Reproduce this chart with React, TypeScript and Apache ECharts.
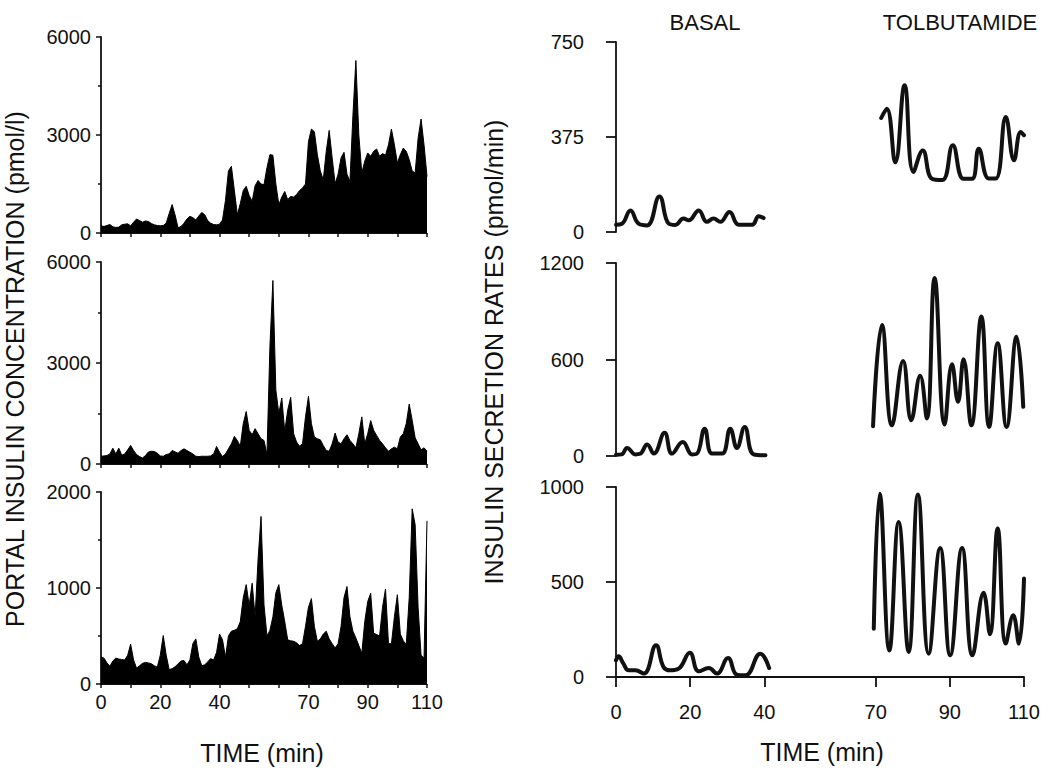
import React, { useEffect, useRef } from 'react';
import * as echarts from 'echarts';

// ---------- data ----------
const TIME_LABELS = [0, 20, 40, 70, 90, 110];

// Portal insulin concentration (pmol/l), one value per minute, 0..110 min
const PORTAL_A = [
  220, 200, 230, 260, 190, 170, 180, 250, 270, 280,
  220, 330, 430, 380, 330, 370, 350, 290, 250, 230,
  220, 230, 300, 600, 870, 550, 160, 200, 300, 430,
  510, 470, 400, 520, 630, 560, 380, 300, 260, 250,
  270, 400, 1000, 1900, 2040, 1300, 560, 900, 1300, 1430,
  1150, 970, 1450, 1610, 1500, 1480, 2000, 2400, 2380, 1500,
  870, 1100, 1270, 1020, 1120, 1100, 1180, 1300, 1380, 1500,
  2800, 3180, 3100, 2400, 1900, 1630, 2500, 3140, 2300, 1510,
  1800, 2300, 2470, 1800, 1580, 3600, 5280, 3000, 1840, 2200,
  2450, 2350, 2500, 2570, 2350, 2430, 2380, 2700, 3180, 2700,
  2140, 2400, 2600, 2500, 2250, 1900, 1840, 2900, 3490, 2700,
  1730,
];
const PORTAL_B = [
  230, 240, 250, 300, 470, 300, 470, 260, 300, 420,
  550, 400, 280, 220, 180, 250, 360, 380, 370, 320,
  240, 230, 280, 300, 400, 360, 320, 400, 450, 400,
  350, 300, 230, 220, 230, 230, 230, 240, 300, 520,
  350, 220, 300, 450, 600, 820, 700, 530, 1200, 1560,
  1000, 870, 1050, 900, 750, 700, 280, 3500, 5450, 2200,
  1500, 1960, 970, 1600, 1980, 900, 650, 530, 600, 1400,
  2010, 1200, 800, 750, 720, 550, 400, 380, 600, 920,
  650, 600, 750, 870, 700, 600, 480, 900, 1400, 600,
  900, 1290, 1000, 850, 700, 600, 480, 380, 450, 500,
  450, 800, 900, 1200, 1780, 1300, 780, 600, 420, 480,
  380,
];
const PORTAL_C = [
  280, 270, 220, 185, 240, 270, 260, 255, 250, 300,
  415, 250, 165, 190, 215, 225, 220, 210, 190, 175,
  300, 505, 300, 150, 160, 180, 210, 240, 245, 200,
  250, 420, 470, 280, 190, 200, 230, 265, 250, 330,
  520, 460, 280, 500, 550, 560, 575, 650, 900, 1035,
  820, 1050, 700, 1300, 1745, 825, 500, 560, 700, 950,
  1035, 820, 650, 460, 450, 445, 430, 400, 420, 600,
  800, 890, 600, 445, 470, 520, 550, 470, 420, 375,
  420, 600, 900, 1015, 700, 550, 480, 400, 320, 650,
  860, 945, 530, 515, 500, 800, 990, 420, 420, 700,
  930, 520, 450, 410, 900, 1825, 1660, 800, 300, 270,
  1700,
];

// Insulin secretion rates (pmol/min): times (min) and values
const SR1_BASAL_T = [0, 1.6, 3.9, 6.1, 8.4, 11.7, 14.2, 16, 18.2, 19.6, 22.3, 24.5, 26.3, 28.1, 30.6, 33.1, 36.7, 38.5, 39.8];
const SR1_BASAL_V = [29, 33, 85, 33, 26, 140, 33, 28, 53, 46, 85, 40, 53, 40, 79, 29, 29, 62, 55];
const SR1_TOLB_T = [71.5, 73, 75.3, 77.8, 80.2, 82.7, 85.2, 88, 90.8, 93.7, 96, 97.8, 100.5, 102.4, 105.1, 107.3, 109.1, 110];
const SR1_TOLB_V = [450, 487, 275, 579, 237, 322, 210, 205, 342, 210, 210, 329, 211, 211, 454, 283, 395, 382];

const SR2_BASAL_T = [0, 1.5, 3, 5.2, 6.5, 8.4, 10.2, 13.1, 15.1, 18, 20.5, 21.8, 23.9, 25.9, 28.6, 30.8, 32.6, 34.7, 37.1, 40.3];
const SR2_BASAL_V = [8, 10, 50, 10, 14, 71, 15, 144, 15, 87, 10, 14, 170, 15, 15, 170, 50, 181, 10, 4];
const SR2_TOLB_T = [69.3, 71.7, 74.4, 77.4, 79.6, 82, 83.8, 85.9, 88.6, 90.6, 92.2, 93.7, 95.8, 98.5, 100.6, 102.9, 105.3, 108, 109.8];
const SR2_TOLB_V = [185, 815, 191, 591, 223, 499, 233, 1107, 196, 570, 337, 601, 191, 867, 181, 701, 181, 742, 306];

const SR3_BASAL_T = [0, 0.7, 2, 3.4, 5.2, 7.5, 10.8, 12.8, 14.6, 16.9, 19.9, 22.3, 25, 27.2, 30.2, 32.6, 34.9, 38.9, 41.3];
const SR3_BASAL_V = [88, 109, 70, 35, 35, 18, 167, 53, 35, 44, 128, 30, 47, 18, 100, 12, 9, 123, 47];
const SR3_TOLB_T = [69.5, 71.1, 73.7, 76.2, 78.9, 81.4, 84.3, 87.4, 90.1, 93.3, 96.1, 99.1, 100.8, 102.9, 105.1, 107.1, 108.6, 110];
const SR3_TOLB_V = [254, 965, 140, 816, 132, 961, 123, 679, 114, 679, 114, 444, 225, 781, 176, 325, 176, 518];

const LEFT_Y_MAX = [6000, 6000, 2000];
const LEFT_Y_STEP = [3000, 3000, 1000];
const RIGHT_Y_MAX = [750, 1200, 1000];
const RIGHT_Y_STEP = [375, 600, 500];

// ---------- styling ----------
const FONT = '"Liberation Sans", Arial, Helvetica, sans-serif';
const INK = '#111';
const plain = (v: number) => String(v);

export default function App() {
  const ref = useRef<HTMLDivElement>(null);

  useEffect(() => {
    if (!ref.current) return;
    const chart = echarts.init(ref.current, null, { renderer: 'svg' });

    const grids = [
      { left: 101, top: 37, width: 326, height: 196 },
      { left: 101, top: 262, width: 326, height: 202 },
      { left: 101, top: 492, width: 326, height: 192 },
      { left: 616, top: 42, width: 408, height: 190 },
      { left: 616, top: 263, width: 408, height: 193 },
      { left: 616, top: 487, width: 408, height: 190 },
    ];

    const xAxes: any[] = [];
    const yAxes: any[] = [];
    for (let i = 0; i < 3; i++) {
      xAxes.push({
        type: 'value', gridIndex: i, min: 0, max: 110, interval: 10,
        axisLine: { show: true, lineStyle: { color: INK, width: 1 } },
        axisTick: { show: true, length: 4, lineStyle: { color: INK, width: 1.5 } },
        splitLine: { show: false },
        axisLabel: {
          show: i === 2, color: INK, fontSize: 20, fontFamily: FONT, margin: 8,
          formatter: (v: number) => (TIME_LABELS.indexOf(v) >= 0 ? String(v) : ''),
        },
      });
      yAxes.push({
        type: 'value', gridIndex: i, min: 0, max: LEFT_Y_MAX[i], interval: LEFT_Y_STEP[i],
        axisLine: { show: true, lineStyle: { color: INK, width: 1.8 } },
        axisTick: { show: true, length: 5, lineStyle: { color: INK, width: 1.5 } },
        minorTick: { show: true, splitNumber: 2, length: 3, lineStyle: { color: INK, width: 1.5 } },
        splitLine: { show: false },
        minorSplitLine: { show: false },
        axisLabel: { color: INK, fontSize: 20, fontFamily: FONT, margin: 10, formatter: plain },
      });
    }
    for (let i = 0; i < 3; i++) {
      const bottom = i === 2;
      xAxes.push({
        type: 'value', gridIndex: 3 + i, min: 0, max: 110, show: bottom, offset: 9,
        axisLine: { show: true, lineStyle: { color: INK, width: 1.8 } },
        axisTick: { show: true, length: 10, customValues: TIME_LABELS, lineStyle: { color: INK, width: 1.8 } },
        splitLine: { show: false },
        axisLabel: { color: INK, fontSize: 20, fontFamily: FONT, margin: 16, customValues: TIME_LABELS, formatter: plain },
      });
      yAxes.push({
        type: 'value', gridIndex: 3 + i, min: 0, max: RIGHT_Y_MAX[i], interval: RIGHT_Y_STEP[i], offset: 14,
        axisLine: { show: true, lineStyle: { color: INK, width: 1.8 } },
        axisTick: { show: true, length: 10, lineStyle: { color: INK, width: 1.8 } },
        splitLine: { show: false },
        axisLabel: { color: INK, fontSize: 20, fontFamily: FONT, margin: 18, formatter: plain },
      });
    }

    const area = (vals: number[], idx: number) => ({
      type: 'line', xAxisIndex: idx, yAxisIndex: idx,
      data: vals.map((v, k) => [k, v]),
      symbol: 'none', smooth: false,
      lineStyle: { color: '#000', width: 1 },
      areaStyle: { color: '#000', opacity: 1 },
    });
    const curve = (t: number[], v: number[], idx: number) => ({
      type: 'line', xAxisIndex: idx, yAxisIndex: idx,
      data: t.map((x, k) => [x, v[k]]),
      symbol: 'none', smooth: 0.45,
      lineStyle: { color: INK, width: 4, cap: 'round', join: 'round' },
    });

    const txt = (text: string, x: number, y: number, size: number, rot = 0) => ({
      type: 'text', x, y, rotation: rot, silent: true,
      style: { text, fill: INK, fontSize: size, fontFamily: FONT, align: 'center', verticalAlign: 'middle' },
    });

    chart.setOption({
      animation: false,
      backgroundColor: '#fff',
      textStyle: { fontFamily: FONT },
      grid: grids,
      xAxis: xAxes,
      yAxis: yAxes,
      series: [
        area(PORTAL_A, 0), area(PORTAL_B, 1), area(PORTAL_C, 2),
        curve(SR1_BASAL_T, SR1_BASAL_V, 3), curve(SR1_TOLB_T, SR1_TOLB_V, 3),
        curve(SR2_BASAL_T, SR2_BASAL_V, 4), curve(SR2_TOLB_T, SR2_TOLB_V, 4),
        curve(SR3_BASAL_T, SR3_BASAL_V, 5), curve(SR3_TOLB_T, SR3_TOLB_V, 5),
      ],
      graphic: [
        txt('BASAL', 705, 22, 22),
        txt('TOLBUTAMIDE', 960, 22, 22),
        txt('PORTAL INSULIN CONCENTRATION (pmol/l)', 15, 369, 25, Math.PI / 2),
        txt('INSULIN SECRETION RATES (pmol/min)', 494, 352, 25, Math.PI / 2),
        txt('TIME (min)', 262, 753, 25),
        txt('TIME (min)', 822, 752, 25),
      ],
    });

    return () => chart.dispose();
  }, []);

  return (
    <div
      ref={ref}
      style={{ position: 'fixed', left: 0, top: 0, width: 1050, height: 777, background: '#fff' }}
    />
  );
}
